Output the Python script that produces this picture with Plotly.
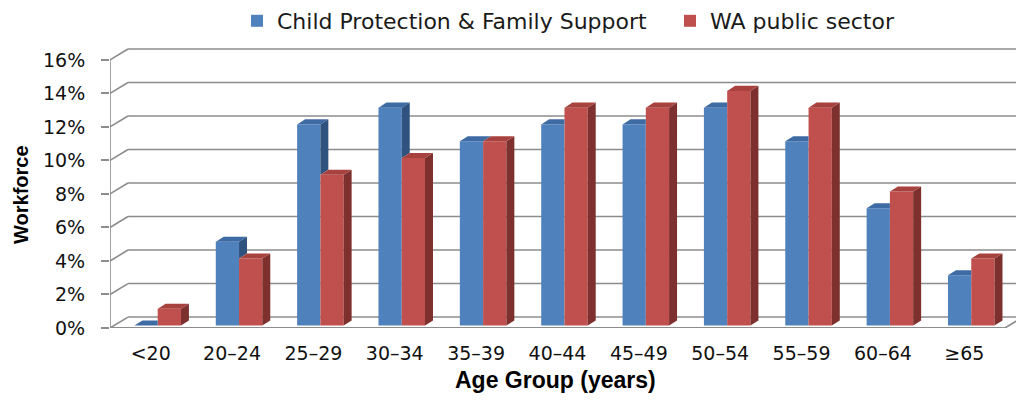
import plotly.graph_objects as go

# --- data -------------------------------------------------------------
categories = ["<20", "20\u201324", "25\u201329", "30\u201334", "35\u201339", "40\u201344",
              "45\u201349", "50\u201354", "55\u201359", "60\u201364", "\u226565"]
cpfs_share = [0, 5, 12, 13, 11, 12, 12, 13, 11, 7, 3]      # Child Protection & Family Support (%)
wa_share = [1, 4, 9, 10, 11, 13, 13, 14, 13, 8, 4]          # WA public sector (%)
y_ticks = [0, 2, 4, 6, 8, 10, 12, 14, 16]
y_tick_labels = ["0%", "2%", "4%", "6%", "8%", "10%", "12%", "14%", "16%"]

# --- pseudo-3D geometry (axis units) ----------------------------------
W = 0.286             # width of one column
OFF_B, OFF_R = -0.20, 0.086
BASE = 0.15           # columns stand slightly behind the front edge
BDX, BDY = 0.098, 0.30   # depth of a column
WDX, WDY = 0.221, 0.652  # depth of the walls
X0, X1 = -0.5, 10.5
XMAX = 10.636
YMAX = 17.067

BLUE, BLUE_TOP, BLUE_SIDE = "#4F81BD", "#3F6BA4", "#30527F"
RED, RED_TOP, RED_SIDE = "#C0504D", "#A8423F", "#7D302E"
GRID = "#8c8c8c"
FONT = "DejaVu Sans"

fig = go.Figure()

idx = list(range(len(categories)))
fig.add_trace(go.Bar(x=idx, y=cpfs_share, base=BASE, width=W, offset=OFF_B,
                     marker=dict(color=BLUE, line=dict(width=0)),
                     name="Child Protection & Family Support"))
fig.add_trace(go.Bar(x=idx, y=wa_share, base=BASE, width=W, offset=OFF_R,
                     marker=dict(color=RED, line=dict(width=0)),
                     name="WA public sector"))


def quad(xs, ys, a, b, c, d):
    for p in (a, b, c, d, a):
        xs.append(p[0]); ys.append(p[1])
    xs.append(None); ys.append(None)


faces = {k: ([], []) for k in ("bt", "bs", "rs", "rt")}
for i, (vb, vr) in enumerate(zip(cpfs_share, wa_share)):
    bl, br = i + OFF_B, i + OFF_B + W
    rl, rr = i + OFF_R, i + OFF_R + W
    tb, tr = BASE + vb, BASE + vr
    # blue top (its back-right corner hides behind a taller red column)
    if vb < vr:
        quad(*faces["bt"], (bl, tb), (bl + BDX, tb + BDY), (br, tb + BDY), (br, tb))
    else:
        quad(*faces["bt"], (bl, tb), (bl + BDX, tb + BDY), (br + BDX, tb + BDY), (br, tb))
    # blue side is only visible above the red column
    if vb > vr:
        quad(*faces["bs"], (br, tr), (br + BDX, tr + BDY), (br + BDX, tb + BDY), (br, tb))
    quad(*faces["rs"], (rr, BASE), (rr + BDX, BASE + BDY), (rr + BDX, tr + BDY), (rr, tr))
    quad(*faces["rt"], (rl, tr), (rl + BDX, tr + BDY), (rr + BDX, tr + BDY), (rr, tr))

for key, col in (("bt", BLUE_TOP), ("bs", BLUE_SIDE), ("rs", RED_SIDE), ("rt", RED_TOP)):
    xs, ys = faces[key]
    fig.add_trace(go.Scatter(x=xs, y=ys, mode="lines", fill="toself", fillcolor=col,
                             line=dict(width=0, color=col), showlegend=False,
                             hoverinfo="skip"))

# --- walls, floor and gridlines --------------------------------------
shapes = []
line = dict(color=GRID, width=1.6)
for v in y_ticks:
    shapes.append(dict(type="line", xref="x", yref="y", x0=X0, y0=v, x1=X0 + WDX, y1=v + WDY,
                       line=line, layer="below"))
    shapes.append(dict(type="line", xref="x", yref="y", x0=X0 + WDX, y0=v + WDY, x1=XMAX + 1,
                       y1=v + WDY, line=line, layer="below"))
shapes.append(dict(type="line", xref="x", yref="y", x0=X0, y0=0, x1=X1, y1=0,
                   line=dict(color=GRID, width=2), layer="below"))
shapes.append(dict(type="line", xref="x", yref="y", x0=X1, y0=0, x1=X1 + WDX, y1=WDY,
                   line=line, layer="below"))
shapes.append(dict(type="line", xref="x", yref="y", x0=X0, y0=0, x1=X0, y1=y_ticks[-1],
                   line=line, layer="below"))

fig.update_layout(
    width=1016, height=404,
    margin=dict(l=110, r=0, t=40, b=76),
    paper_bgcolor="white", plot_bgcolor="white",
    barmode="overlay",
    shapes=shapes,
    showlegend=True,
    legend=dict(orientation="h", xref="container", yref="container",
                x=237 / 1016, xanchor="left", y=1.0, yanchor="top",
                entrywidth=388, entrywidthmode="pixels",
                font=dict(family=FONT, size=22, color="#1a1a1a"),
                bgcolor="rgba(0,0,0,0)", traceorder="normal"),
    xaxis=dict(range=[X0, XMAX], tickvals=idx, ticktext=categories, ticks="",
               showgrid=False, zeroline=False, showline=False, fixedrange=True,
               tickfont=dict(family=FONT, size=19, color="#111111"),
               ticklabelstandoff=12),
    yaxis=dict(range=[0, YMAX], tickvals=y_ticks, ticktext=y_tick_labels, ticks="outside",
               ticklen=8, tickwidth=1.6, tickcolor=GRID, showgrid=False,
               zeroline=False, showline=False,
               tickfont=dict(family=FONT, size=19, color="#111111"),
               ticklabelstandoff=12),
    annotations=[
        dict(text="<b>Workforce</b>", textangle=-90, xref="paper", yref="paper",
             x=(21 - 110) / 906, y=(328 - 194) / 288, xanchor="center", yanchor="middle",
             showarrow=False, font=dict(family="Liberation Sans", size=20, color="#000")),
        dict(text="<b>Age Group (years)</b>", xref="paper", yref="paper",
             x=(555 - 110) / 906, y=(328 - 380) / 288, xanchor="center", yanchor="middle",
             showarrow=False, font=dict(family="Liberation Sans", size=23, color="#000")),
    ],
)

fig.write_html("out.html")
